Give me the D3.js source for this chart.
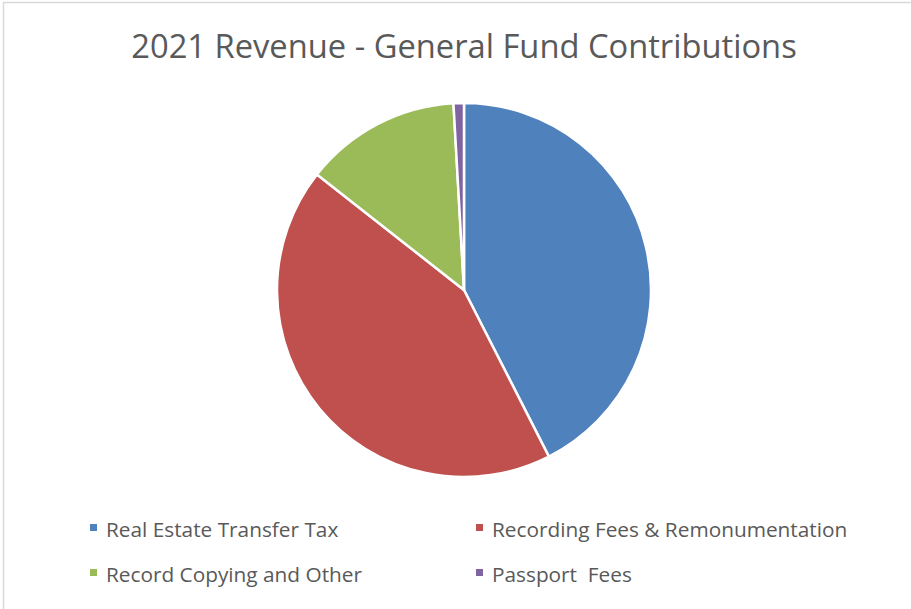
<!DOCTYPE html>
<html>
<head>
<meta charset="utf-8">
<script src="https://cdn.jsdelivr.net/npm/d3@7"></script>
<style>
  body { margin: 0; background: #fff; }
</style>
</head>
<body>
<div id="chart"></div>
<script>
var categories = ["Real Estate Transfer Tax", "Recording Fees & Remonumentation", "Record Copying and Other", "Passport  Fees"];
var values = [42.5, 43.1, 13.5, 0.9];
var colors = ["#4f81bd", "#c0504d", "#9bbb59", "#8064a2"];

var W = 911, H = 609;
var CX = 464, CY = 290, R = 187;

var svg = d3.select("#chart")
    .append("svg")
    .attr("width", W)
    .attr("height", H);

// chart border
svg.append("rect")
    .attr("x", 3.5).attr("y", 2.5)
    .attr("width", W).attr("height", H)
    .attr("fill", "white")
    .attr("stroke", "#d9d9d9")
    .attr("stroke-width", 1.5);

svg.append("text")
    .attr("x", 464)
    .attr("y", 58)
    .attr("text-anchor", "middle")
    .attr("font-family", "'Open Sans', sans-serif")
    .attr("font-size", 32.7)
    .attr("fill", "#595959")
    .text("2021 Revenue - General Fund Contributions");

var pie = d3.pie().sort(null).value(d => d);
var arc = d3.arc().innerRadius(0).outerRadius(R);

var g = svg.append("g").attr("transform", "translate(" + CX + "," + CY + ")");
g.selectAll("path")
    .data(pie(values))
    .enter()
    .append("path")
    .attr("d", arc)
    .attr("fill", (d, i) => colors[i])
    .attr("stroke", "white")
    .attr("stroke-width", 2.5)
    .attr("stroke-linejoin", "round");

// legend, 2 columns
var colX = [90, 476], rowY = [530, 575];
var leg = svg.selectAll("g.leg")
    .data(categories)
    .enter()
    .append("g")
    .attr("class", "leg")
    .attr("transform", (d, i) => "translate(" + colX[i % 2] + "," + rowY[Math.floor(i / 2)] + ")");

leg.append("rect")
    .attr("x", 0).attr("y", -6)
    .attr("width", 7).attr("height", 7)
    .attr("fill", (d, i) => colors[i]);

leg.append("text")
    .attr("x", 16)
    .attr("y", 7)
    .attr("font-family", "'Open Sans', sans-serif")
    .attr("font-size", 20.8)
    .attr("fill", "#595959")
    .style("white-space", "pre")
    .text(d => d);
</script>
</body>
</html>
